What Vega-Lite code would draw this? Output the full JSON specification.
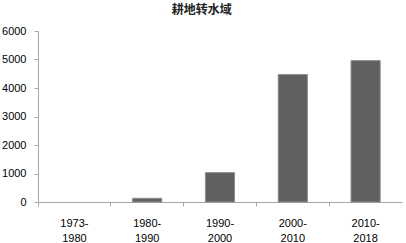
{
  "$schema": "https://vega.github.io/schema/vega-lite/v6.json",
  "width": 364,
  "height": 171,
  "autosize": {"type": "none"},
  "padding": {"left": 38, "top": 31, "right": 4, "bottom": 41},
  "background": "white",
  "title": {
    "text": "耕地转水域",
    "font": "Noto Sans CJK SC",
    "fontSize": 12,
    "fontWeight": "bold",
    "color": "#222",
    "anchor": "middle",
    "frame": "bounds",
    "offset": 8
  },
  "data": {
    "values": [
      {"period": "1973-1980", "value": 0},
      {"period": "1980-1990", "value": 130},
      {"period": "1990-2000", "value": 1030},
      {"period": "2000-2010", "value": 4470},
      {"period": "2010-2018", "value": 4960}
    ]
  },
  "mark": {"type": "bar", "width": {"band": 0.4}, "fill": "#606060", "stroke": "#8c8c8c", "strokeWidth": 1},
  "encoding": {
    "x": {
      "field": "period",
      "type": "nominal",
      "sort": null,
      "scale": {"paddingInner": 0, "paddingOuter": 0},
      "axis": {
        "title": null,
        "labelAngle": 0,
        "labelExpr": "[slice(datum.value, 0, 5), slice(datum.value, 5)]",
        "labelFont": "Liberation Sans",
        "labelFontSize": 11,
        "labelColor": "#000",
        "labelLineHeight": 15,
        "labelPadding": 11,
        "bandPosition": 0,
        "tickSize": 4,
        "domainColor": "#a6a6a6",
        "tickColor": "#a6a6a6",
        "grid": false
      }
    },
    "y": {
      "field": "value",
      "type": "quantitative",
      "scale": {"domain": [0, 6000], "nice": false},
      "axis": {
        "title": null,
        "values": [0, 1000, 2000, 3000, 4000, 5000, 6000],
        "format": "d",
        "labelFont": "Liberation Sans",
        "labelFontSize": 11,
        "labelColor": "#000",
        "labelPadding": 8,
        "tickSize": 4,
        "domainColor": "#a6a6a6",
        "tickColor": "#a6a6a6",
        "grid": false
      }
    },
    "strokeOpacity": {
      "condition": {"test": "datum.value > 0", "value": 1},
      "value": 0
    }
  },
  "config": {"view": {"stroke": null}}
}
